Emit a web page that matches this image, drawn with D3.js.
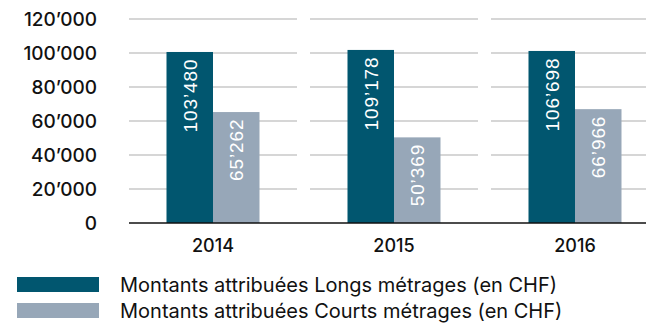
<!DOCTYPE html>
<html><head><meta charset="utf-8">
<script src="https://cdn.jsdelivr.net/npm/d3@7"></script>
<style>body{margin:0;background:#fff;}svg{display:block;}</style>
</head><body>
<script>
const categories = ["2014", "2015", "2016"];
const seriesNames = ["Montants attribuées Longs métrages (en CHF)", "Montants attribuées Courts métrages (en CHF)"];
// bar heights as drawn in the picture
const longsBars = [100600, 101800, 101200];
const courtsBars = [65262, 50369, 66966];
// value labels as printed on the bars
const longsLabels = ["103’480", "109’178", "106’698"];
const courtsLabels = ["65’262", "50’369", "66’966"];
const yTicks = [0, 20000, 40000, 60000, 80000, 100000, 120000];
const yTickLabels = ["0", "20’000", "40’000", "60’000", "80’000", "100’000", "120’000"];

const colors = ["#01566f", "#97a7b8"];
const W = 646, H = 325;
const svg = d3.select("body").append("svg").attr("width", W).attr("height", H);

const y = d3.scaleLinear().domain([0, 120000]).range([223, 19]);
const x0 = 129;
const x = d3.scaleBand().domain(categories).range([x0, x0 + 181 * 3 - 13]).paddingInner(13 / 181).paddingOuter(0);
const barW = 46.5;

// grid segments per category
categories.forEach(c => {
  const bx = x(c);
  svg.append("g").selectAll("line").data(yTicks.slice(1)).join("line")
    .attr("x1", bx).attr("x2", Math.min(bx + x.bandwidth(), W))
    .attr("y1", d => y(d)).attr("y2", d => y(d))
    .attr("stroke", "#c9c9c9").attr("stroke-width", 1.5);
});

// y tick labels
svg.append("g").selectAll("text").data(yTicks).join("text")
  .attr("x", 97).attr("y", d => y(d)).attr("dy", "0.36em")
  .attr("text-anchor", "end")
  .style("font-family", "Inter").style("font-weight", 500).style("font-size", "19px").style("fill", "#111")
  .text((d, i) => yTickLabels[i]);

const series = [
  {bars: longsBars, labels: longsLabels, color: colors[0], off: -barW},
  {bars: courtsBars, labels: courtsLabels, color: colors[1], off: 0}
];

series.forEach(s => {
  const g = svg.append("g");
  g.selectAll("rect").data(categories).join("rect")
    .attr("x", (c) => x(c) + x.bandwidth() / 2 + s.off)
    .attr("width", barW)
    .attr("y", (c, i) => y(s.bars[i]))
    .attr("height", (c, i) => y(0) - y(s.bars[i]))
    .attr("fill", s.color);
  g.selectAll("text").data(categories).join("text")
    .attr("transform", (c, i) => `translate(${x(c) + x.bandwidth() / 2 + s.off + barW / 2 + 7},${y(s.bars[i]) + 6.5}) rotate(-90)`)
    .attr("text-anchor", "end")
    .style("font-family", "Liberation Sans, Arial").style("font-size", "19px").style("letter-spacing", "0.9px").style("fill", "#fff")
    .text((c, i) => s.labels[i]);
});

// baseline
svg.append("line").attr("x1", x0).attr("x2", W).attr("y1", y(0)).attr("y2", y(0))
  .attr("stroke", "#111").attr("stroke-width", 1.5);

// x labels
svg.append("g").selectAll("text").data(categories).join("text")
  .attr("x", c => x(c) + x.bandwidth() / 2).attr("y", 252)
  .attr("text-anchor", "middle")
  .style("font-family", "Inter").style("font-weight", 500).style("font-size", "18px").style("fill", "#111")
  .text(c => c);

// legend
const leg = svg.append("g");
seriesNames.forEach((n, i) => {
  leg.append("rect").attr("x", 17).attr("y", 277 + i * 26).attr("width", 82).attr("height", 15).attr("fill", colors[i]);
  leg.append("text").attr("x", 120).attr("y", 284.5 + i * 26).attr("dy", "0.36em")
    .style("font-family", "Inter").style("font-weight", 400).style("font-size", "20px").style("fill", "#111")
    .text(n);
});
</script>
</body></html>
